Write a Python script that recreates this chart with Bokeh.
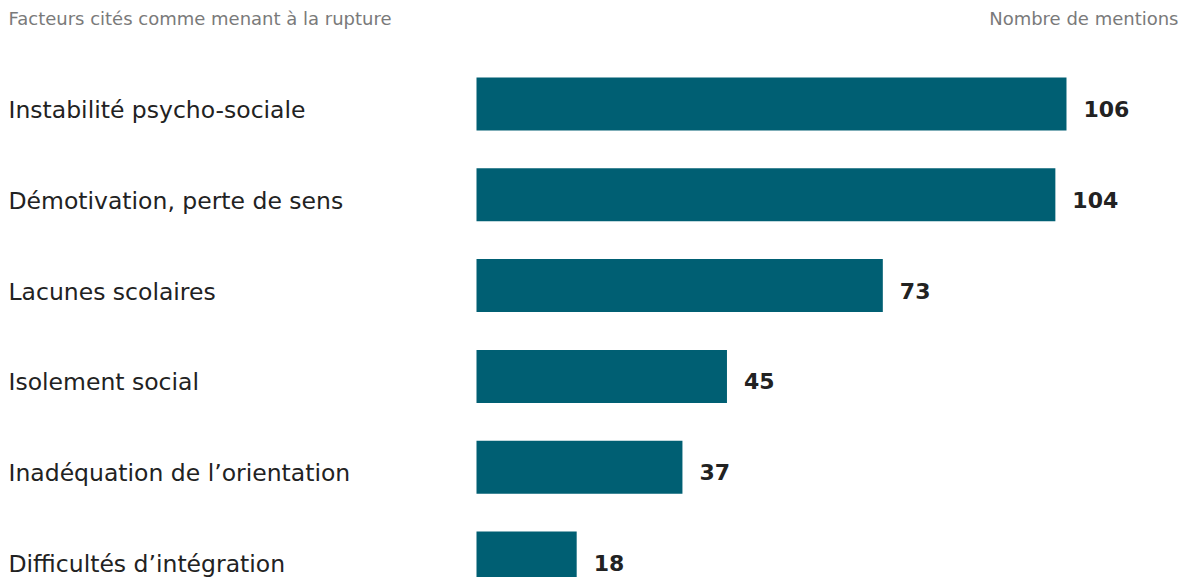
from bokeh.plotting import figure
from bokeh.models import Range1d, ColumnDataSource, Label
from bokeh.core.properties import value
from bokeh.embed import file_html
from bokeh.resources import INLINE

categories = [
    "Instabilité psycho-sociale",
    "Démotivation, perte de sens",
    "Lacunes scolaires",
    "Isolement social",
    "Inadéquation de l’orientation",
    "Difficultés d’intégration",
]
mentions = [106, 104, 73, 45, 37, 18]
title_left = "Facteurs cités comme menant à la rupture"
title_right = "Nombre de mentions"

FONT = "DejaVu Sans"
BAR = "#005f73"

W, H = 1184, 577
px_per_unit = 5.566
x0_px = 476
x_start = -x0_px / px_per_unit
x_end = (W - x0_px) / px_per_unit

row_px = 90.8
first_center_px = 103.5
y_top = -first_center_px / row_px
y_bottom = y_top + H / row_px

src = ColumnDataSource(dict(
    y=list(range(len(categories))),
    v=mentions,
    cat=categories,
    lab=[str(m) for m in mentions],
    zero=[0] * len(mentions),
    lx=[x_start] * len(mentions),
))

p = figure(width=W, height=H, output_backend="svg", toolbar_location=None,
           x_range=Range1d(x_start, x_end), y_range=Range1d(y_bottom, y_top),
           min_border=0, outline_line_color=None)
p.axis.visible = False
p.grid.visible = False
p.background_fill_color = "white"
p.border_fill_color = "white"

p.hbar(y="y", left="zero", right="v", height=53 / row_px, source=src,
       fill_color=BAR, line_color=None)

p.text(x="lx", y="y", text="cat", source=src, x_offset=8, y_offset=6,
       text_font=value(FONT), text_font_size="23.5px", text_color="#222222",
       text_align="left", text_baseline="middle")

p.text(x="v", y="y", text="lab", source=src, x_offset=17, y_offset=5,
       text_font=value(FONT), text_font_size="22px", text_font_style="bold",
       text_color="#222222", text_align="left", text_baseline="middle")

p.add_layout(Label(x=8, y=H - 18, x_units="screen", y_units="screen", text=title_left,
                   text_font=FONT, text_font_size="18px", text_color="#7a7a7a",
                   text_align="left", text_baseline="middle"))
p.add_layout(Label(x=W - 6, y=H - 18, x_units="screen", y_units="screen", text=title_right,
                   text_font=FONT, text_font_size="18px", text_color="#7a7a7a",
                   text_align="right", text_baseline="middle"))

open("out.html", "w").write(file_html(p, INLINE))
